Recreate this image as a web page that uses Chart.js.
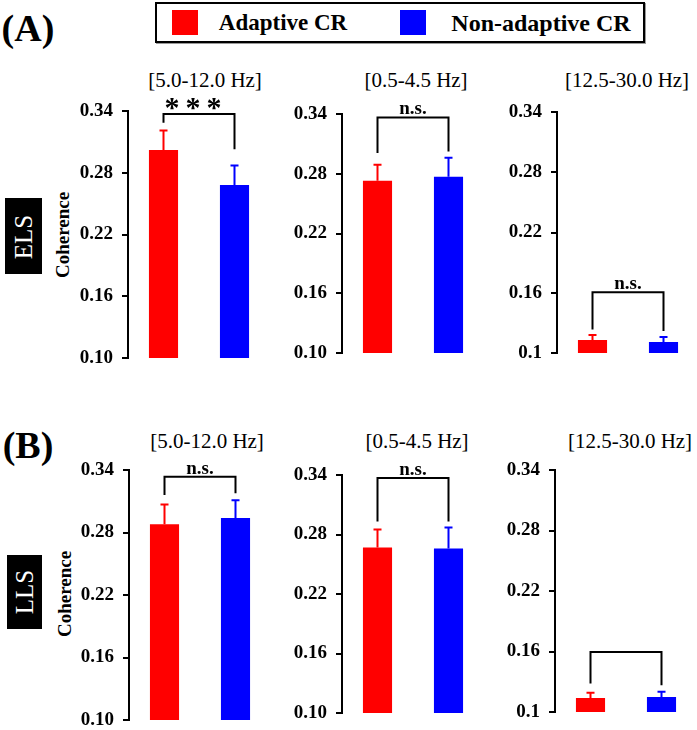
<!DOCTYPE html>
<html>
<head>
<meta charset="utf-8">
<script src="https://cdn.jsdelivr.net/npm/chart.js@4.4.0/dist/chart.umd.min.js"></script>
<style>
  body { margin: 0; background: #fff; }
  #fig { position: relative; width: 697px; height: 730px; font-family: 'Liberation Serif', serif; color: #000; overflow: hidden; }
  .txt { position: absolute; white-space: nowrap; line-height: 1; }
  canvas { position: absolute; }
</style>
</head>
<body>
<div id="fig"></div>
<script>
// data
const bands = ['[5.0-12.0 Hz]', '[0.5-4.5 Hz]', '[12.5-30.0 Hz]'];
const groups = ['Adaptive CR', 'Non-adaptive CR'];
const yTicks = [0.10, 0.16, 0.22, 0.28, 0.34];
const tickLabels = ['0.10', '0.16', '0.22', '0.28', '0.34'];
const tickLabelsShort = ['0.1', '0.16', '0.22', '0.28', '0.34'];

const elsAdaptive = [0.302, 0.273, 0.113];
const elsAdaptiveErr = [0.019, 0.016, 0.005];
const elsNonAdaptive = [0.268, 0.277, 0.111];
const elsNonAdaptiveErr = [0.019, 0.019, 0.005];
const llsAdaptive = [0.288, 0.267, 0.114];
const llsAdaptiveErr = [0.019, 0.018, 0.005];
const llsNonAdaptive = [0.294, 0.266, 0.115];
const llsNonAdaptiveErr = [0.017, 0.021, 0.005];

const elsSig = ['***', 'n.s.', 'n.s.'];
const llsSig = ['n.s.', 'n.s.', ''];
// bracket: [top, left leg end, right leg end] in coherence units
const elsBracket = [[0.337, 0.3286, 0.3028], [0.3366, 0.3008, 0.3024], [0.1606, 0.1234, 0.122]];
const llsBracket = [[0.3336, 0.316, 0.3176], [0.337, 0.293, 0.293], [0.1596, 0.1282, 0.1265]];

const RED = '#ff0000';
const BLUE = '#0000ff';

const fig = document.getElementById('fig');

function addText(text, cx, cy, font, opts = {}) {
  const d = document.createElement('div');
  d.className = 'txt';
  d.textContent = text;
  d.style.font = font;
  d.style.left = cx + 'px';
  d.style.top = cy + 'px';
  d.style.transform = 'translate(-50%,-50%)' + (opts.rotate ? ' rotate(' + opts.rotate + 'deg)' : '');
  if (opts.color) d.style.color = opts.color;
  fig.appendChild(d);
  return d;
}

function addBox(x, y, w, h, style) {
  const d = document.createElement('div');
  d.style.position = 'absolute';
  d.style.left = x + 'px';
  d.style.top = y + 'px';
  d.style.width = w + 'px';
  d.style.height = h + 'px';
  Object.assign(d.style, style);
  fig.appendChild(d);
  return d;
}

// legend
addBox(155, 2, 490, 41, { border: '2px solid #000', boxSizing: 'border-box', boxShadow: '1px 1px 0 #999' });
addBox(172, 10, 26, 25, { background: RED });
addBox(400, 10, 26, 25, { background: BLUE });
addText(groups[0], 283, 23, 'bold 23px "Liberation Serif"');
addText(groups[1], 541, 23, 'bold 24px "Liberation Serif"');

// panel letters and row labels
addText('(A)', 28, 28, 'bold 38px "Liberation Serif"');
addText('(B)', 28, 445, 'bold 38px "Liberation Serif"');
addBox(5, 198, 37, 76, { background: '#000' });
addBox(7, 555, 35, 74, { background: '#000' });
addText('ELS', 24, 237, '25px "Liberation Serif"', { rotate: -90, color: '#fff' });
addText('LLS', 25, 592, '25px "Liberation Serif"', { rotate: -90, color: '#fff' });
addText('Coherence', 63, 235, 'bold 19px "Liberation Serif"', { rotate: -90 });
addText('Coherence', 65, 594, 'bold 19px "Liberation Serif"', { rotate: -90 });

// band titles
const titleX = [[205, 416, 627], [207, 417, 630]];
const titleY = [80, 441];
[0, 1].forEach(r => bands.forEach((b, c) => addText(b, titleX[r][c], titleY[r], '21px "Liberation Serif"')));

// error bars + significance brackets
const sigBracket = {
  id: 'sigBracket',
  afterDatasetsDraw(chart, args, opts) {
    const ctx = chart.ctx;
    const y = chart.scales.y;
    const ds = chart.data.datasets[0];
    const bars = chart.getDatasetMeta(0).data;
    ctx.save();
    ctx.lineWidth = 2;
    bars.forEach((bar, i) => {
      const top = y.getPixelForValue(ds.data[i]);
      const end = y.getPixelForValue(ds.data[i] + ds.errors[i]);
      ctx.strokeStyle = ds.backgroundColor[i];
      ctx.beginPath();
      ctx.moveTo(bar.x, top);
      ctx.lineTo(bar.x, end);
      ctx.moveTo(bar.x - 4, end);
      ctx.lineTo(bar.x + 4, end);
      ctx.stroke();
    });
    const [bTop, bLeft, bRight] = opts.levels;
    const x0 = bars[0].x, x1 = bars[1].x;
    const yt = y.getPixelForValue(bTop);
    ctx.strokeStyle = '#000';
    ctx.beginPath();
    ctx.moveTo(x0, y.getPixelForValue(bLeft));
    ctx.lineTo(x0, yt);
    ctx.lineTo(x1, yt);
    ctx.lineTo(x1, y.getPixelForValue(bRight));
    ctx.stroke();
    ctx.fillStyle = '#000';
    ctx.textAlign = 'center';
    ctx.textBaseline = 'alphabetic';
    const cx = (x0 + x1) / 2;
    if (opts.label === '***') {
      ctx.font = 'bold 30px "Liberation Serif"';
      [-21, 0, 21].forEach(dx => ctx.fillText('*', cx - 6 + dx, yt + 3));
    } else if (opts.label) {
      ctx.font = 'bold 19px "Liberation Serif"';
      ctx.fillText(opts.label, cx, yt - 3);
    }
    ctx.restore();
  }
};

// panel placement: y-axis line x, pixel of 0.34, pixel of 0.10
const layoutRows = [
  [[128, 111, 358], [342, 114, 353], [557, 112, 353]],
  [[129, 470, 720], [342, 475, 713], [555, 470, 712]]
];
const AXW = 70, PAD = 25, AREA_W = 142;

function makePanel(pos, values, errors, sig, bracket, labels) {
  const [axisX, top, bottom] = pos;
  const cv = document.createElement('canvas');
  cv.width = AXW + AREA_W + 3;
  cv.height = bottom - top + 2 * PAD;
  cv.style.left = (axisX - AXW) + 'px';
  cv.style.top = (top - PAD) + 'px';
  fig.appendChild(cv);
  new Chart(cv.getContext('2d'), {
    type: 'bar',
    data: {
      labels: groups,
      datasets: [{
        data: values,
        errors: errors,
        backgroundColor: [RED, BLUE],
        borderWidth: 0,
        barPercentage: 0.41,
        categoryPercentage: 1
      }]
    },
    options: {
      responsive: false,
      animation: false,
      layout: { padding: { top: PAD, bottom: PAD, left: 0, right: 3 } },
      plugins: {
        legend: { display: false },
        tooltip: { enabled: false },
        sigBracket: { levels: bracket, label: sig }
      },
      scales: {
        x: { display: false },
        y: {
          min: 0.10,
          max: 0.34,
          afterBuildTicks: s => { s.ticks = yTicks.map(v => ({ value: v })); },
          afterFit: s => { s.width = AXW; },
          ticks: {
            callback: (v, i) => labels[i],
            font: { family: 'Liberation Serif', size: 19, weight: 'bold' },
            color: '#000',
            padding: 9
          },
          grid: { drawOnChartArea: false, drawTicks: true, tickLength: 6, color: '#000', lineWidth: 2 },
          border: { display: true, color: '#000', width: 2 }
        }
      }
    },
    plugins: [sigBracket]
  });
}

const rows = [
  { a: elsAdaptive, ae: elsAdaptiveErr, n: elsNonAdaptive, ne: elsNonAdaptiveErr, sig: elsSig, br: elsBracket },
  { a: llsAdaptive, ae: llsAdaptiveErr, n: llsNonAdaptive, ne: llsNonAdaptiveErr, sig: llsSig, br: llsBracket }
];
rows.forEach((row, r) => {
  bands.forEach((b, c) => {
    makePanel(layoutRows[r][c], [row.a[c], row.n[c]], [row.ae[c], row.ne[c]],
      row.sig[c], row.br[c], c === 2 ? tickLabelsShort : tickLabels);
  });
});
</script>
</body>
</html>
